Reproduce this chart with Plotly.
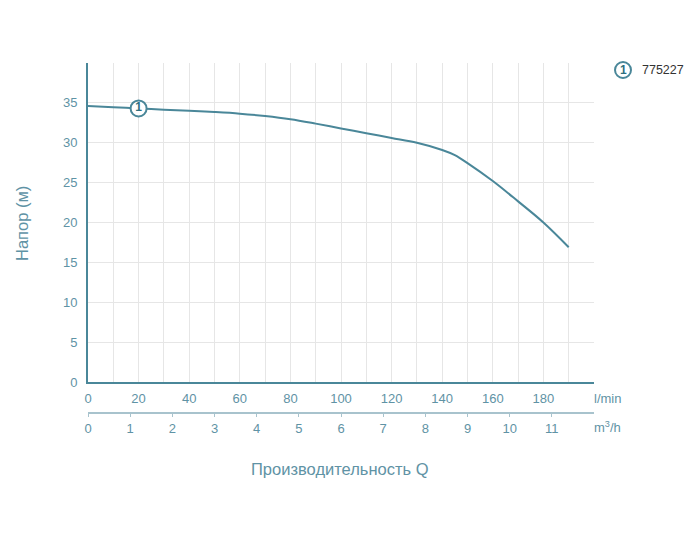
import plotly.graph_objects as go

# Data
flow_lpm = [0, 10, 20, 30, 40, 50, 60, 70, 80, 90, 100, 110, 120, 130, 140, 145, 150, 160, 170, 180, 190]
head_m = [34.6, 34.45, 34.3, 34.15, 34.0, 33.85, 33.65, 33.35, 32.95, 32.4, 31.8, 31.2, 30.6, 30.0, 29.1, 28.45, 27.45, 25.2, 22.65, 20.0, 16.9]
marker_q = [20]
marker_h = [34.3]
x_ticks_lpm = [0, 20, 40, 60, 80, 100, 120, 140, 160, 180]
x_minor_lpm = [10, 30, 50, 70, 90, 110, 130, 150, 170, 190]
x_ticks_m3h = [0, 1, 2, 3, 4, 5, 6, 7, 8, 9, 10, 11]
y_ticks = [0, 5, 10, 15, 20, 25, 30, 35]
series_name = "775227"

TEAL = "#4a8799"
LABEL = "#5f93a5"
FONT = "Liberation Sans, Arial, sans-serif"

fig = go.Figure()
fig.add_trace(go.Scatter(x=flow_lpm, y=head_m, mode="lines",
                         line=dict(color=TEAL, width=2, shape="spline", smoothing=1.0),
                         hoverinfo="skip", showlegend=False))
fig.add_trace(go.Scatter(x=marker_q, y=marker_h, mode="markers+text", text=["<b>1</b>"],
                         textposition="middle center",
                         textfont=dict(family=FONT, size=12, color="#2f6f80"),
                         marker=dict(size=16, color="white", line=dict(color=TEAL, width=2)),
                         showlegend=False, hoverinfo="skip"))
# dummy trace on secondary axis
fig.add_trace(go.Scatter(x=[0], y=[0], xaxis="x2", mode="markers",
                         marker=dict(opacity=0), showlegend=False, hoverinfo="skip"))

fig.update_layout(
    width=700, height=533,
    margin=dict(l=88, r=106, t=63, b=120),
    paper_bgcolor="white", plot_bgcolor="white",
    font=dict(family=FONT, size=13, color=LABEL),
    xaxis=dict(range=[0, 200], tickvals=x_ticks_lpm, anchor="y",
               showgrid=True, gridcolor="#e6e6e6", gridwidth=1,
               minor=dict(tickvals=x_minor_lpm, showgrid=True, gridcolor="#e6e6e6", gridwidth=1),
               showline=True, linecolor=TEAL, linewidth=2,
               ticks="outside", ticklen=3, tickcolor="rgba(0,0,0,0)",
               tickfont=dict(size=13, color=LABEL), zeroline=False),
    xaxis2=dict(range=[0, 12], tickvals=x_ticks_m3h, overlaying="x", anchor="free",
                position=0, side="bottom", showgrid=False, zeroline=False,
                showline=True, linecolor="#a8c3cd", linewidth=2,
                ticks="outside", ticklen=3, tickcolor="#a8c3cd",
                tickfont=dict(size=13, color=LABEL)),
    yaxis=dict(range=[0, 40], tickvals=y_ticks, domain=[31 / 350, 1],
               showgrid=True, gridcolor="#e6e6e6", gridwidth=1,
               showline=True, linecolor=TEAL, linewidth=2, zeroline=False,
               ticks="outside", ticklen=6, tickcolor="rgba(0,0,0,0)",
               tickfont=dict(size=13, color=LABEL)),
)

def px_x(px):
    return (px - 88) / 506.0

def px_y(py):
    return (413 - py) / 350.0

fig.add_annotation(text="Напор (м)", xref="paper", yref="paper", x=px_x(22), y=px_y(224),
                   textangle=-90, showarrow=False, font=dict(size=16.5, color=LABEL),
                   xanchor="center", yanchor="middle")
fig.add_annotation(text="Производительность Q", xref="paper", yref="paper", x=px_x(340), y=px_y(469),
                   showarrow=False, font=dict(size=16.5, color=LABEL), xanchor="center", yanchor="middle")
fig.add_annotation(text="l/min", xref="paper", yref="paper", x=px_x(592), y=px_y(398),
                   showarrow=False, font=dict(size=13, color=LABEL), xanchor="left", yanchor="middle")
fig.add_annotation(text="m<sup>3</sup>/h", xref="paper", yref="paper", x=px_x(592), y=px_y(427),
                   showarrow=False, font=dict(size=13, color=LABEL), xanchor="left", yanchor="middle")

# legend
fig.add_shape(type="circle", xref="paper", yref="paper", xsizemode="pixel", ysizemode="pixel",
              xanchor=px_x(623), yanchor=px_y(70), x0=-8, x1=8, y0=-8, y1=8,
              line=dict(color=TEAL, width=2), fillcolor="white")
fig.add_annotation(text="<b>1</b>", xref="paper", yref="paper", x=px_x(623), y=px_y(70),
                   showarrow=False, font=dict(size=12, color="#2f6f80"), xanchor="center", yanchor="middle")
fig.add_annotation(text=series_name, xref="paper", yref="paper", x=px_x(640), y=px_y(70),
                   showarrow=False, font=dict(size=12.5, color="#333333"), xanchor="left", yanchor="middle")

fig.write_html("out.html")
